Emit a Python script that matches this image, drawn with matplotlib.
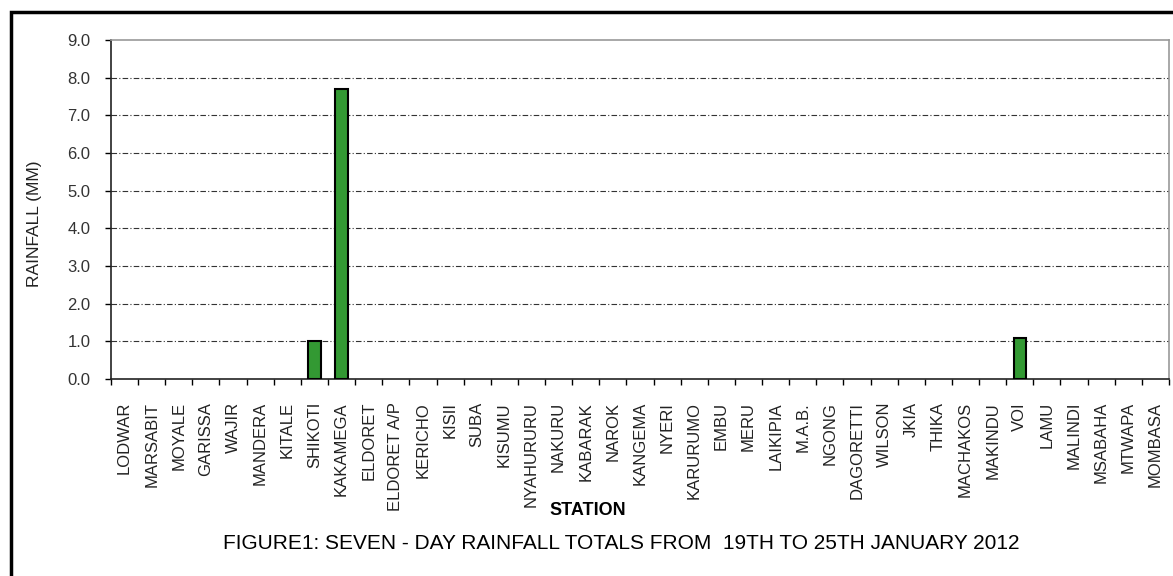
import matplotlib
matplotlib.use('Agg')
import matplotlib.pyplot as plt
import matplotlib.patches as patches
import numpy as np

stations = ['LODWAR', 'MARSABIT', 'MOYALE', 'GARISSA', 'WAJIR', 'MANDERA', 'KITALE',
            'SHIKOTI', 'KAKAMEGA', 'ELDORET', 'ELDORET A/P', 'KERICHO', 'KISII', 'SUBA',
            'KISUMU', 'NYAHURURU', 'NAKURU', 'KABARAK', 'NAROK', 'KANGEMA', 'NYERI',
            'KARURUMO', 'EMBU', 'MERU', 'LAIKIPIA', 'M.A.B.', 'NGONG', 'DAGORETTI',
            'WILSON', 'JKIA', 'THIKA', 'MACHAKOS', 'MAKINDU', 'VOI', 'LAMU', 'MALINDI',
            'MSABAHA', 'MTWAPA', 'MOMBASA']
rainfall = [0, 0, 0, 0, 0, 0, 0,
            1.0, 7.7, 0, 0, 0, 0, 0,
            0, 0, 0, 0, 0, 0, 0,
            0, 0, 0, 0, 0, 0, 0,
            0, 0, 0, 0, 0, 1.1, 0, 0,
            0, 0, 0]
yticks = np.arange(0, 10, 1.0)

plt.rcParams['font.family'] = ['Liberation Sans', 'DejaVu Sans']

fig = plt.figure(figsize=(11.73, 5.76), dpi=100)
ax = fig.add_axes([0.0946, 0.342, 0.9020, 0.5886])

x = np.arange(len(stations))
vals = np.array(rainfall, dtype=float)
# zero totals are not drawn as bars (no outline at the baseline)
vals[vals == 0] = np.nan
ax.bar(x, vals, width=0.45, color='#339933', edgecolor='black', linewidth=1.5, zorder=3)

ax.set_xlim(-0.5, len(stations) - 0.5)
ax.set_ylim(0, 9)
ax.set_yticks(yticks)
ax.set_yticklabels(['%.1f' % v for v in yticks], fontsize=12, color='#333333')
ax.set_xticks(x)
ax.set_xticklabels(stations, rotation=90, fontsize=12, va='top', color='#222222')
ax.tick_params(axis='x', length=0, pad=16.5)
ax.set_xticks(np.arange(-0.5, len(stations)), minor=True)
ax.tick_params(axis='x', which='minor', length=4.3, width=1, direction='out')
ax.tick_params(axis='y', length=4.3, width=1, direction='out', pad=10.5)

for v in yticks[1:-1]:
    ax.axhline(v, color='#333333', linewidth=0.8, linestyle=(0, (5, 2, 1, 2)), zorder=1)

ax.spines['top'].set_color('#999999')
ax.spines['right'].set_color('#999999')
ax.spines['top'].set_linewidth(1.2)
ax.spines['right'].set_linewidth(1.2)
ax.spines['left'].set_color('#222222')
ax.spines['bottom'].set_color('#222222')
ax.spines['left'].set_linewidth(1.2)
ax.spines['bottom'].set_linewidth(1.2)

fig.text(0.029, 0.611, 'RAINFALL (MM)', rotation=90, ha='center', va='center',
         fontsize=12.5, color='#222222')
fig.text(0.501, 0.113, 'STATION', ha='center', va='center', fontsize=13, fontweight='bold')
fig.text(0.530, 0.0564, 'FIGURE1: SEVEN - DAY RAINFALL TOTALS FROM  19TH TO 25TH JANUARY 2012',
         ha='center', va='center', fontsize=15)

frame = patches.Rectangle((0.0095, -0.05), 1.1, 1.03, transform=fig.transFigure,
                          fill=False, edgecolor='black', linewidth=2.5, clip_on=False)
fig.patches.append(frame)

fig.savefig('out.png', dpi=100)
